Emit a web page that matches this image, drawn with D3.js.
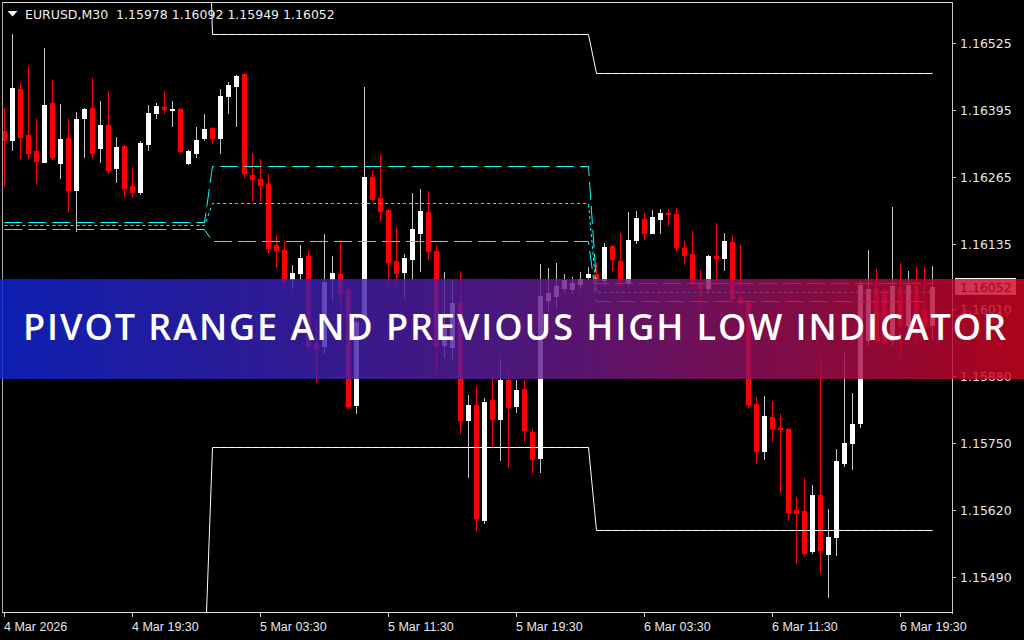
<!DOCTYPE html>
<html><head><meta charset="utf-8">
<script src="https://cdn.jsdelivr.net/npm/d3@7"></script>
<style>html,body{margin:0;padding:0;background:#000;overflow:hidden}</style>
</head><body>
<svg id="c" width="1024" height="640"></svg>
<script>
// ---------- data ----------
const symbolTitle = "EURUSD,M30";
const titleValues = ["1.15978", "1.16092", "1.15949", "1.16052"];

const barOpen = [
1.16354,1.16337,1.16436,1.16346,1.16315,1.16294,1.16408,1.16292,1.16341,1.16240,
1.16379,1.16399,1.16321,1.16366,1.16282,1.16325,1.16248,1.16236,1.16329,1.16389,
1.16401,1.16395,1.16397,1.16292,1.16312,1.16341,1.16360,1.16341,1.16422,1.16441,
1.16465,1.16269,1.16261,1.16251,1.16133,1.16124,1.16067,1.16079,1.16112,1.15943,
1.15937,1.16067,1.16077,1.16046,1.15823,1.15992,1.16265,1.16224,1.16201,1.16102,
1.16081,1.16106,1.16156,1.16197,1.16122,1.15939,1.15935,1.16021,1.15794,1.15823,
1.15600,1.15834,1.15797,1.15871,1.15821,1.15854,1.15772,1.15720,1.16027,1.16034,
1.16050,1.16048,1.16058,1.16071,1.16077,1.16065,1.16131,1.16102,1.16060,1.16143,
1.16184,1.16156,1.16184,1.16195,1.16193,1.16127,1.16116,1.16060,1.16050,1.16112,
1.16108,1.16139,1.16032,1.16021,1.15826,1.15735,1.15801,1.15778,1.15776,1.15620,
1.15618,1.15540,1.15649,1.15534,1.15567,1.15710,1.15749,1.15788,1.15949,1.16050,
1.16046,1.15949,1.16052,1.15978,1.16054,1.16007,1.15978];
const barHigh = [
1.16399,1.16542,1.16449,1.16480,1.16377,1.16515,1.16453,1.16406,1.16377,1.16391,
1.16399,1.16457,1.16412,1.16432,1.16343,1.16327,1.16282,1.16335,1.16404,1.16408,
1.16432,1.16412,1.16399,1.16317,1.16362,1.16387,1.16362,1.16436,1.16449,1.16463,
1.16467,1.16312,1.16300,1.16271,1.16153,1.16141,1.16094,1.16133,1.16124,1.15988,
1.16154,1.16112,1.16139,1.16052,1.15997,1.16439,1.16279,1.16310,1.16203,1.16168,
1.16116,1.16234,1.16242,1.16238,1.16131,1.16081,1.16065,1.16083,1.15842,1.15860,
1.15836,1.15883,1.15912,1.15891,1.15871,1.15871,1.15776,1.16096,1.16089,1.16098,
1.16077,1.16071,1.16081,1.16091,1.16098,1.16137,1.16133,1.16156,1.16197,1.16199,
1.16195,1.16201,1.16203,1.16203,1.16205,1.16141,1.16160,1.16085,1.16114,1.16176,
1.16156,1.16153,1.16133,1.16027,1.15838,1.15840,1.15832,1.15805,1.15778,1.15645,
1.15681,1.15668,1.15920,1.15621,1.15739,1.15924,1.15846,1.16061,1.16124,1.16087,
1.16050,1.16207,1.16096,1.16083,1.16091,1.16091,1.16092];
const barLow = [
1.16250,1.16317,1.16302,1.16302,1.16253,1.16294,1.16300,1.16263,1.16199,1.16160,
1.16304,1.16304,1.16294,1.16273,1.16255,1.16228,1.16226,1.16232,1.16317,1.16379,
1.16389,1.16364,1.16313,1.16290,1.16304,1.16337,1.16331,1.16312,1.16389,1.16364,
1.16265,1.16220,1.16220,1.16120,1.16091,1.16056,1.16050,1.16065,1.15929,1.15867,
1.15924,1.16027,1.16007,1.15817,1.15807,1.15988,1.16218,1.16180,1.16060,1.16060,
1.16030,1.16067,1.16083,1.16106,1.15891,1.15916,1.15910,1.15770,1.15683,1.15581,
1.15594,1.15741,1.15716,1.15703,1.15809,1.15755,1.15693,1.15693,1.16007,1.16011,
1.16042,1.16040,1.16050,1.16067,1.16046,1.16056,1.16085,1.16056,1.16056,1.16137,
1.16145,1.16156,1.16156,1.16172,1.16124,1.16098,1.16050,1.16011,1.16040,1.16065,
1.16085,1.16021,1.16007,1.15819,1.15710,1.15718,1.15753,1.15654,1.15602,1.15517,
1.15532,1.15536,1.15498,1.15451,1.15532,1.15706,1.15699,1.15780,1.15939,1.15939,
1.15939,1.15939,1.15920,1.15949,1.15949,1.15968,1.15949];
const barClose = [
1.16337,1.16438,1.16343,1.16312,1.16296,1.16404,1.16304,1.16339,1.16240,1.16377,
1.16397,1.16312,1.16366,1.16279,1.16323,1.16244,1.16236,1.16331,1.16389,1.16403,
1.16397,1.16397,1.16315,1.16315,1.16337,1.16358,1.16341,1.16422,1.16443,1.16461,
1.16273,1.16261,1.16250,1.16127,1.16124,1.16063,1.16079,1.16108,1.15937,1.15931,
1.16061,1.16079,1.16040,1.15821,1.15984,1.16265,1.16222,1.16199,1.16100,1.16079,
1.16108,1.16164,1.16199,1.16122,1.15937,1.15978,1.16021,1.15794,1.15823,1.15604,
1.15830,1.15797,1.15871,1.15819,1.15852,1.15774,1.15718,1.16034,1.16040,1.16054,
1.16065,1.16060,1.16067,1.16077,1.16065,1.16129,1.16106,1.16063,1.16143,1.16186,
1.16156,1.16187,1.16195,1.16193,1.16129,1.16114,1.16060,1.16050,1.16112,1.16108,
1.16141,1.16030,1.16021,1.15826,1.15735,1.15803,1.15778,1.15776,1.15616,1.15614,
1.15536,1.15649,1.15542,1.15567,1.15714,1.15749,1.15786,1.16056,1.16048,1.15949,
1.15945,1.16054,1.15978,1.16056,1.15994,1.15978,1.16052];

const timeTickBars = [0, 16, 32, 48, 64, 80, 96, 112];
const timeTickLabels = ["4 Mar 2026", "4 Mar 19:30", "5 Mar 03:30", "5 Mar 11:30",
                        "5 Mar 19:30", "6 Mar 03:30", "6 Mar 11:30", "6 Mar 19:30"];
const priceTicks = [1.16525, 1.16395, 1.16265, 1.16135, 1.16010, 1.15880, 1.15750, 1.15620, 1.15490];
const priceTickLabels = ["1.16525", "1.16395", "1.16265", "1.16135", "1.16010", "1.15880", "1.15750", "1.15620", "1.15490"];
const lastPrice = 1.16052;
const lastPriceLabel = "1.16052";

// daily indicator levels (one value per day segment)
const dayStartBar = [0, 26, 74];
const dayEndBar   = [25, 73, 116];
const prevDayHigh = [1.17040, 1.16542, 1.16467];
const prevDayLow  = [1.15313, 1.15741, 1.15581];
const pivotTop    = [1.16179, 1.16287, 1.16060];
const pivotMid    = [1.16173, 1.16214, 1.16042];
const pivotBot    = [1.16165, 1.16141, 1.16024];

const bannerText = "PIVOT RANGE AND PREVIOUS HIGH LOW INDICATOR";

// ---------- chart ----------
const svg = d3.select("#c");
svg.append("rect").attr("width", 1024).attr("height", 640).attr("fill", "#000");

const x = d3.scaleLinear().domain([0, 116]).range([4, 932]);
const y = d3.scaleLinear().domain([1.16525, 1.15490]).range([43, 577]);

const defs = svg.append("defs");
defs.append("clipPath").attr("id", "plot")
  .append("rect").attr("x", 3).attr("y", 3).attr("width", 949).attr("height", 609);

const plot = svg.append("g").attr("clip-path", "url(#plot)");

// candles
const bars = d3.range(barOpen.length).map(i => ({
  i, o: barOpen[i], h: barHigh[i], l: barLow[i], c: barClose[i]
}));
const upCol = "#ffffff", dnCol = "#ff0000";
const cg = plot.append("g");
cg.selectAll("line.wick").data(bars).join("line")
  .attr("x1", d => Math.round(x(d.i)) + 0.5)
  .attr("x2", d => Math.round(x(d.i)) + 0.5)
  .attr("y1", d => Math.round(y(d.h)))
  .attr("y2", d => Math.round(y(d.l)) + 1)
  .attr("stroke", d => d.c >= d.o ? "#c4c4c4" : dnCol)
  .attr("stroke-width", 1);
cg.selectAll("rect.body").data(bars).join("rect")
  .attr("x", d => Math.round(x(d.i)) - 2)
  .attr("width", 5)
  .attr("y", d => Math.round(y(Math.max(d.o, d.c))))
  .attr("height", d => Math.max(1, Math.round(y(Math.min(d.o, d.c))) - Math.round(y(Math.max(d.o, d.c))) + 1))
  .attr("fill", d => d.c >= d.o ? upCol : dnCol);

// indicator lines
function seriesPoints(vals) {
  const pts = [];
  vals.forEach((v, d) => {
    for (let b = dayStartBar[d]; b <= dayEndBar[d]; b++) pts.push([b, v]);
  });
  return pts;
}
const lineGen = d3.line().x(p => Math.round(x(p[0])) + 0.5).y(p => Math.round(y(p[1])) + 0.5);
const ig = plot.append("g").attr("fill", "none");
[[prevDayHigh, "#ffffff", null], [prevDayLow, "#ffffff", null],
 [pivotTop, "#00ffff", "18,6"], [pivotMid, "#00ffff", "3,3"], [pivotBot, "#00ffff", "18,6"]]
.forEach(([vals, col, dash]) => {
  ig.append("path").attr("d", lineGen(seriesPoints(vals)))
    .attr("stroke", col).attr("stroke-width", 1)
    .attr("stroke-dasharray", dash);
});

// frame / axes
const axCol = "#c8c8c8";
svg.append("line").attr("x1", 2).attr("x2", 953).attr("y1", 2.5).attr("y2", 2.5).attr("stroke", "#e0e0e0");
svg.append("line").attr("x1", 2.5).attr("x2", 2.5).attr("y1", 2).attr("y2", 613).attr("stroke", "#a8a8a8");
svg.append("line").attr("x1", 952.5).attr("x2", 952.5).attr("y1", 2).attr("y2", 614).attr("stroke", axCol);
svg.append("line").attr("x1", 2).attr("x2", 953).attr("y1", 612.5).attr("y2", 612.5).attr("stroke", "#e0e0e0");

// price axis
const pa = svg.append("g");
priceTicks.forEach((p, k) => {
  const yy = Math.round(y(p));
  pa.append("line").attr("x1", 953).attr("x2", 956).attr("y1", yy + 0.5).attr("y2", yy + 0.5).attr("stroke", axCol);
  pa.append("text").attr("x", 960).attr("y", yy + 4.5)
    .attr("font-family", "DejaVu Sans").attr("font-size", 12.5).attr("fill", "#e6e6e6")
    .text(priceTickLabels[k]);
});
// current price box
const ly = Math.round(y(lastPrice));
pa.append("rect").attr("x", 955).attr("y", ly - 9).attr("width", 61).attr("height", 17).attr("fill", "#ffffff");
pa.append("text").attr("x", 960).attr("y", ly + 4.5)
  .attr("font-family", "DejaVu Sans").attr("font-size", 12.5).attr("fill", "#000")
  .text(lastPriceLabel);

// time axis
const ta = svg.append("g");
timeTickBars.forEach((b, k) => {
  const xx = Math.round(x(b)) + 0.5;
  ta.append("line").attr("x1", xx).attr("x2", xx).attr("y1", 613).attr("y2", 617).attr("stroke", axCol);
  ta.append("text").attr("x", xx - 0.5).attr("y", 631)
    .attr("font-family", "Liberation Sans").attr("font-size", 12.5).attr("fill", "#e6e6e6")
    .text(timeTickLabels[k]);
});

// title
svg.append("path").attr("d", "M7.5,11 L17.5,11 L12.5,16.5 Z").attr("fill", "#ffffff");
svg.append("text").attr("x", 25).attr("y", 19)
  .attr("font-family", "DejaVu Sans").attr("font-size", 12.5).attr("fill", "#eeeeee")
  .style("white-space", "pre")
  .text(symbolTitle + "  " + titleValues.join(" "));

// banner
const grad = defs.append("linearGradient").attr("id", "bg").attr("x1", "0%").attr("x2", "100%");
grad.append("stop").attr("offset", "0%").attr("stop-color", "rgb(16,38,215)");
grad.append("stop").attr("offset", "50%").attr("stop-color", "rgb(92,28,150)");
grad.append("stop").attr("offset", "100%").attr("stop-color", "rgb(210,4,32)");
svg.append("rect").attr("x", 0).attr("y", 279).attr("width", 1024).attr("height", 100)
  .attr("fill", "url(#bg)").attr("fill-opacity", 0.82);
svg.append("text").attr("x", 23).attr("y", 340)
  .attr("font-family", "Open Sans").attr("font-weight", 600).attr("font-size", 36)
  .attr("fill", "#ffffff").attr("textLength", 983).attr("lengthAdjust", "spacing")
  .text(bannerText);
</script>
</body></html>
